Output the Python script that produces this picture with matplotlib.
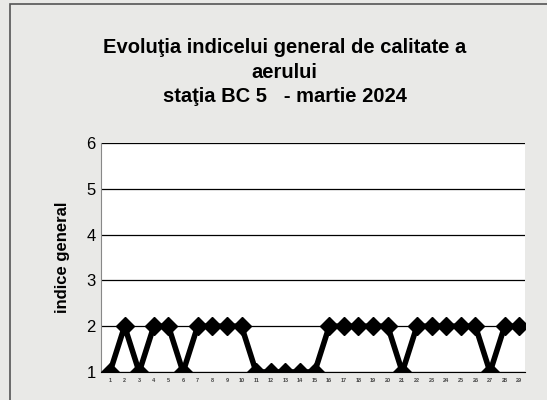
import numpy as np
import matplotlib.pyplot as plt
from matplotlib.patches import Rectangle

# zilele lunii si indicele general
zile = list(range(1, 30))
indice = [1, 2, 1, 2, 2, 1, 2, 2, 2, 2,
          1, 1, 1, 1, 1, 2, 2, 2, 2, 2,
          1, 2, 2, 2, 2, 2, 1, 2, 2]
y_ticks = [1, 2, 3, 4, 5, 6]

plt.rcParams['font.family'] = ['Liberation Sans', 'DejaVu Sans']

fig = plt.figure(figsize=(5.47, 4.0), dpi=100)
fig.patch.set_facecolor('#e9e9e7')

# chenarul graficului
fig.patches.append(Rectangle((0.018, -0.01), 0.99, 1.0, transform=fig.transFigure,
                             fill=False, edgecolor='#555555', linewidth=1.2))

ax = fig.add_axes([0.185, 0.07, 0.775, 0.572])
ax.set_facecolor('white')
ax.plot(zile, indice, color='black', linewidth=4, marker='D',
        markersize=9, markerfacecolor='black', markeredgecolor='black', zorder=3)

ax.set_ylim(1, 6)
ax.set_xlim(0.4, 29.4)
ax.set_yticks(y_ticks)
ax.set_yticklabels([str(v) for v in y_ticks], fontsize=12)
ax.set_xticks(zile)
ax.set_xticklabels([str(z) for z in zile], fontsize=4, fontweight='bold', color='#444444')
ax.tick_params(axis='both', length=0, pad=4)
ax.yaxis.grid(True, color='black', linewidth=0.9)
ax.set_axisbelow(True)
for s in ['top', 'right']:
    ax.spines[s].set_visible(False)
ax.spines['left'].set_color('#888888')
ax.spines['bottom'].set_color('black')

ax.set_ylabel('indice general', fontsize=12, fontweight='bold', labelpad=12)

fig.text(0.52, 0.82, 'Evoluţia indicelui general de calitate a\naerului\nstaţia BC 5   - martie 2024',
         ha='center', va='center', fontsize=14.5, fontweight='bold', linespacing=1.35)

plt.savefig('out.png', dpi=100, facecolor=fig.get_facecolor())
